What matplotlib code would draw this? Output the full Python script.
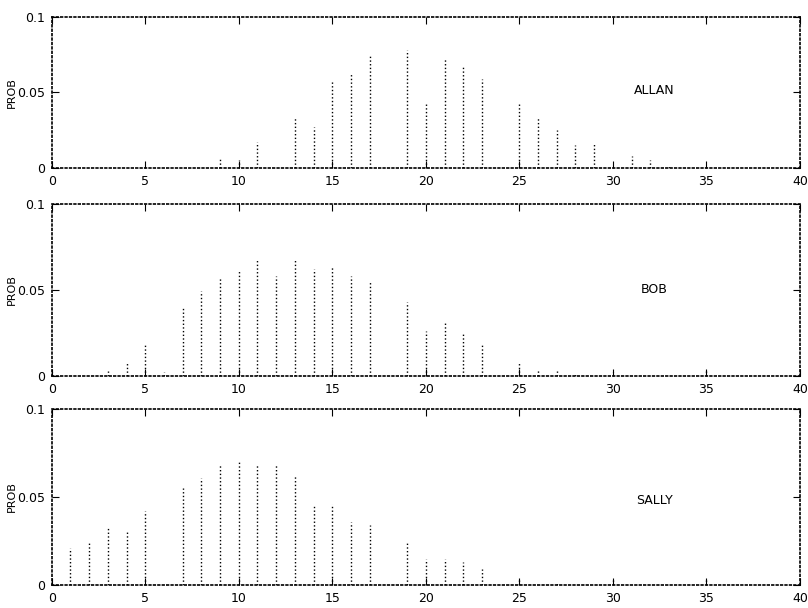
import matplotlib.pyplot as plt
import numpy as np

# probability distributions
allan_x = [0, 5, 9, 10, 11, 13, 14, 15, 16, 17, 19, 20, 21, 22, 23,
           25, 26, 27, 28, 29, 31, 32, 33, 35]
allan_p = [0.002, 0.001, 0.006, 0.005, 0.017, 0.033, 0.027, 0.058, 0.063,
           0.074, 0.078, 0.043, 0.072, 0.067, 0.059, 0.042, 0.034, 0.025,
           0.015, 0.016, 0.008, 0.005, 0.002, 0.002]

bob_x = [0, 3, 4, 5, 6, 7, 8, 9, 10, 11, 12, 13, 14, 15, 16, 17, 19, 20,
         21, 22, 23, 25, 26, 27, 28, 30, 35]
bob_p = [0.002, 0.003, 0.008, 0.018, 0.002, 0.040, 0.049, 0.057, 0.061,
         0.067, 0.058, 0.067, 0.062, 0.064, 0.058, 0.055, 0.043, 0.026,
         0.031, 0.024, 0.018, 0.008, 0.004, 0.003, 0.001, 0.002, 0.003]

sally_x = [1, 2, 3, 4, 5, 7, 8, 9, 10, 11, 12, 13, 14, 15, 16, 17, 19,
           20, 21, 22, 23, 25, 27, 30, 35]
sally_p = [0.021, 0.025, 0.033, 0.031, 0.042, 0.055, 0.061, 0.069, 0.071,
           0.069, 0.068, 0.062, 0.045, 0.046, 0.036, 0.034, 0.024, 0.015,
           0.015, 0.013, 0.009, 0.003, 0.001, 0.003, 0.003]

names = ["ALLAN", "BOB", "SALLY"]
xticks = list(range(0, 41, 5))
yticks = [0, 0.05, 0.1]
ytick_labels = ["0", "0.05", "0.1"]

# axes boxes in figure fractions (left, bottom, width, height)
boxes = [(0.064, 0.724, 0.926, 0.248),
         (0.064, 0.382, 0.926, 0.283),
         (0.064, 0.038, 0.926, 0.289)]
label_y = [0.051, 0.05, 0.048]

fig = plt.figure(figsize=(8.08, 6.08), dpi=100)

for box, name, ly, xs, ps in zip(boxes, names, label_y,
                                 [allan_x, bob_x, sally_x],
                                 [allan_p, bob_p, sally_p]):
    ax = fig.add_axes(box)
    ax.vlines(xs, 0, ps, colors="black", linestyles=":", linewidth=1.0)
    ax.set_xlim(0, 40)
    ax.set_ylim(0, 0.1)
    ax.set_xticks(xticks)
    ax.set_yticks(yticks)
    ax.set_yticklabels(ytick_labels)
    ax.tick_params(direction="in", top=True, right=True, length=5,
                   labelsize=9, pad=5)
    for sp in ax.spines.values():
        sp.set_linestyle(":")
        sp.set_linewidth(1.2)
    ax.set_ylabel("PROB", fontsize=8, labelpad=0)
    ax.text(32.2, ly, name, fontsize=9, ha="center", va="center")

plt.savefig("out.png", dpi=100)
